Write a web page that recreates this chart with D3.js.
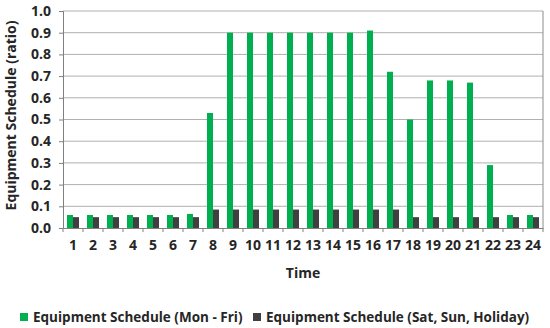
<!DOCTYPE html>
<html lang="en">
<head>
    <meta charset="UTF-8" />
    <script src="https://d3js.org/d3.v7.min.js"></script>
    <title>Equipment Schedule</title>
    <style>
        body {
            margin: 0;
            overflow: hidden;
            background: white;
        }

        text {
            font-family: "Open Sans", sans-serif;
            font-weight: bold;
            fill: #262626;
        }
    </style>
</head>
<body>
    <script>
        // hours on the x axis
        const hours = d3.range(1, 25).map(String);
        const yTicks = [0, 0.1, 0.2, 0.3, 0.4, 0.5, 0.6, 0.7, 0.8, 0.9, 1.0];

        const seriesNames = ["Equipment Schedule (Mon - Fri)", "Equipment Schedule (Sat, Sun, Holiday)"];
        const seriesColors = ["#00b050", "#404040"];

        // values
        const weekday = [0.06, 0.06, 0.06, 0.06, 0.06, 0.06, 0.065, 0.53, 0.9, 0.9, 0.9, 0.9,
            0.9, 0.9, 0.9, 0.91, 0.72, 0.5, 0.68, 0.68, 0.67, 0.29, 0.06, 0.06];
        const weekend = [0.05, 0.05, 0.05, 0.05, 0.05, 0.05, 0.05, 0.085, 0.085, 0.085, 0.085, 0.085,
            0.085, 0.085, 0.085, 0.085, 0.085, 0.05, 0.05, 0.05, 0.05, 0.05, 0.05, 0.05];

        const width = 550;
        const height = 328;
        const margin = { top: 11, right: 7, bottom: 100, left: 63 };

        const svg = d3.select('body')
            .append('svg')
            .attr('width', width)
            .attr('height', height);

        const x = d3.scaleBand()
            .domain(hours)
            .range([margin.left, width - margin.right])
            .paddingInner(0.4)
            .paddingOuter(0.2);

        const xSub = d3.scaleBand()
            .domain([0, 1])
            .range([0, x.bandwidth()]);

        const y = d3.scaleLinear()
            .domain([0, 1])
            .range([height - margin.bottom, margin.top]);

        // gridlines
        svg.append('g')
            .selectAll('line')
            .data(yTicks.slice(1))
            .join('line')
            .attr('x1', margin.left)
            .attr('x2', width - margin.right)
            .attr('y1', d => y(d))
            .attr('y2', d => y(d))
            .attr('stroke', '#b0b0b0')
            .attr('stroke-width', 1);

        // right border
        svg.append('line')
            .attr('x1', width - margin.right)
            .attr('x2', width - margin.right)
            .attr('y1', margin.top)
            .attr('y2', height - margin.bottom)
            .attr('stroke', '#8c8c8c');

        // bars
        const rows = hours.map((h, i) => ({ hour: h, vals: [weekday[i], weekend[i]] }));

        svg.append('g')
            .selectAll('g')
            .data(rows)
            .join('g')
            .attr('transform', d => `translate(${x(d.hour)},0)`)
            .selectAll('rect')
            .data(d => d.vals.map((v, k) => ({ k, v })))
            .join('rect')
            .attr('x', d => xSub(d.k))
            .attr('width', xSub.bandwidth())
            .attr('y', d => y(d.v))
            .attr('height', d => y(0) - y(d.v))
            .attr('fill', d => seriesColors[d.k]);

        // y axis
        const yAxis = svg.append('g')
            .attr('transform', `translate(${margin.left},0)`)
            .call(d3.axisLeft(y).tickValues(yTicks).tickFormat(d3.format('.1f')).tickSize(4));
        yAxis.select('.domain').attr('stroke', '#808080');
        yAxis.selectAll('.tick line').attr('stroke', '#808080');
        yAxis.selectAll('.tick text')
            .attr('x', -12)
            .style('font-size', '14px');

        // x axis, ticks sit on category boundaries
        const xAxis = svg.append('g')
            .attr('transform', `translate(0,${y(0)})`)
            .call(d3.axisBottom(x).tickSize(0));
        xAxis.select('.domain').attr('stroke', '#808080');
        xAxis.selectAll('.tick text')
            .attr('y', 12)
            .style('font-size', '14px');

        const bounds = hours.map(h => x(h) - x.step() * x.paddingInner() / 2);
        bounds.push(width - margin.right);
        xAxis.append('g')
            .selectAll('line')
            .data(bounds)
            .join('line')
            .attr('x1', d => d)
            .attr('x2', d => d)
            .attr('y1', 0)
            .attr('y2', 4)
            .attr('stroke', '#808080');

        // axis titles
        svg.append('text')
            .attr('x', (margin.left + width - margin.right) / 2)
            .attr('y', 278)
            .attr('text-anchor', 'middle')
            .style('font-size', '14px')
            .text('Time');

        svg.append('text')
            .attr('transform', `translate(16,${(margin.top + y(0)) / 2 - 4}) rotate(-90)`)
            .attr('text-anchor', 'middle')
            .style('font-size', '14px')
            .text('Equipment Schedule (ratio)');

        // legend
        const legendX = [20, 253];
        const legend = svg.append('g')
            .selectAll('g')
            .data(seriesNames)
            .join('g')
            .attr('transform', (d, i) => `translate(${legendX[i]},313)`);

        legend.append('rect')
            .attr('width', 8)
            .attr('height', 8)
            .attr('fill', (d, i) => seriesColors[i]);

        legend.append('text')
            .attr('x', 13)
            .attr('y', 9)
            .style('font-size', '13.5px')
            .text(d => d);
    </script>
</body>
</html>
